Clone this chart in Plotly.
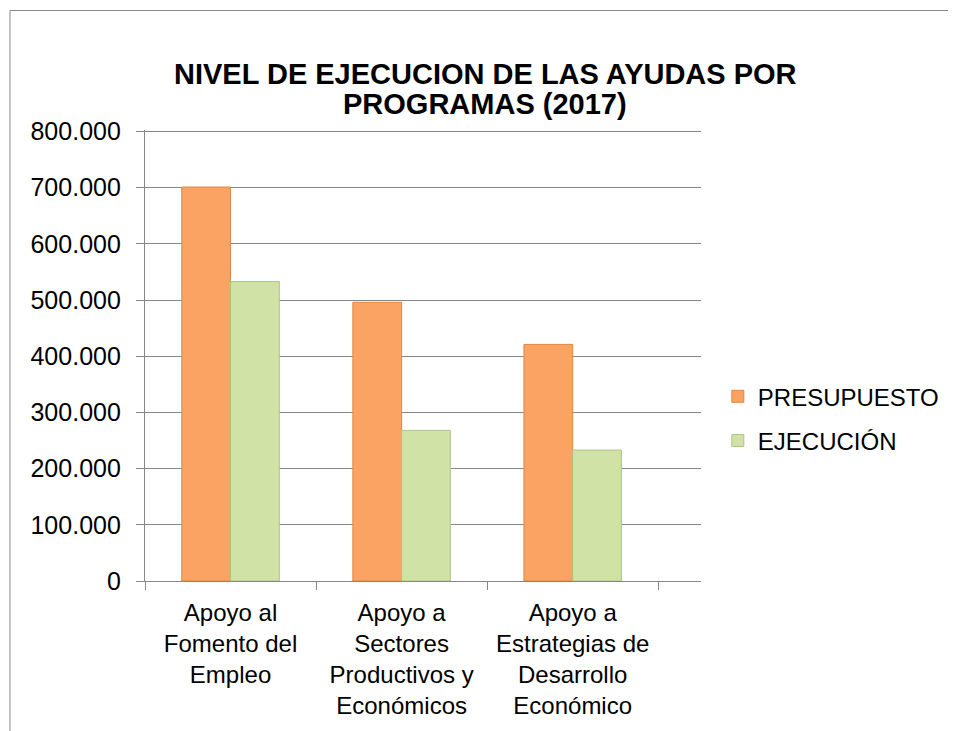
import plotly.graph_objects as go

categories = [
    "Apoyo al<br>Fomento del<br>Empleo",
    "Apoyo a<br>Sectores<br>Productivos y<br>Económicos",
    "Apoyo a<br>Estrategias de<br>Desarrollo<br>Económico",
]
presupuesto = [701000, 496000, 421000]
ejecucion = [533000, 268000, 233000]
series_names = ["PRESUPUESTO", "EJECUCIÓN"]
y_ticks = [0, 100000, 200000, 300000, 400000, 500000, 600000, 700000, 800000]
title_lines = ["NIVEL DE EJECUCION DE LAS AYUDAS POR", "PROGRAMAS (2017)"]

FONT = "Arial, Liberation Sans, sans-serif"
GRID = "#878787"

# page body adds an 8px offset; figure coordinates below are page minus 8
OFF = 8
W, H = 956 - OFF, 731 - OFF
YMAX = 802500
L = 145 - OFF
R = 707 - OFF
B = 581 - OFF
T = B - 450 * YMAX / 800000
pw, ph = R - L, B - T

def px2x(px):
    return (px - OFF - L) / pw

def py2y(py):
    return (B - (py - OFF)) / ph

fig = go.Figure()
fig.add_trace(go.Bar(
    x=categories, y=presupuesto, name=series_names[0],
    marker=dict(color="#FBA363", line=dict(color="#DE8743", width=1)),
    legendgroup="a",
))
fig.add_trace(go.Bar(
    x=categories, y=ejecucion, name=series_names[1],
    marker=dict(color="#D0E2A5", line=dict(color="#AFC486", width=1)),
    legendgroup="b",
))

fig.update_layout(
    width=W, height=H,
    margin=dict(l=L, r=W - R, t=T, b=H - B, pad=0),
    paper_bgcolor="white", plot_bgcolor="white",
    separators=",.",
    font=dict(family=FONT, size=24, color="#000000"),
    barmode="group", bargap=0.43, bargroupgap=0,
    legend=dict(
        x=px2x(724), xanchor="left", y=py2y(374), yanchor="top",
        font=dict(family=FONT, size=24, color="#000000"),
        traceorder="grouped", tracegroupgap=10,
        bgcolor="rgba(0,0,0,0)",
    ),
    showlegend=True,
    xaxis=dict(
        range=[-0.5, 2.75],
        showline=True, linecolor=GRID, linewidth=1,
        ticks="outside", tickson="boundaries", ticklen=8, tickcolor=GRID,
        showgrid=False,
        ticklabelstandoff=10,
        tickfont=dict(family=FONT, size=24, color="#000000"),
    ),
    yaxis=dict(
        range=[0, YMAX], tickvals=y_ticks, tickformat=",d",
        showline=True, linecolor=GRID, linewidth=1.3,
        ticks="outside", ticklen=8, tickcolor=GRID,
        showgrid=True, gridcolor=GRID, gridwidth=1.3,
        zeroline=False,
        ticklabelstandoff=10,
        tickfont=dict(family=FONT, size=25, color="#000000"),
    ),
    annotations=[
        dict(text="<b>%s</b>" % title_lines[0], xref="paper", yref="paper",
             x=px2x(489), y=py2y(74), xanchor="center", yanchor="middle",
             showarrow=False, font=dict(family=FONT, size=29, color="#000000")),
        dict(text="<b>%s</b>" % title_lines[1], xref="paper", yref="paper",
             x=px2x(489), y=py2y(104), xanchor="center", yanchor="middle",
             showarrow=False, font=dict(family=FONT, size=29, color="#000000")),
    ],
    shapes=[
        dict(type="line", xref="paper", yref="paper",
             x0=px2x(8.5), x1=px2x(970), y0=py2y(10), y1=py2y(10),
             line=dict(color="#8A8A8A", width=1)),
        dict(type="line", xref="paper", yref="paper",
             x0=px2x(8.5), x1=px2x(8.5), y0=py2y(10), y1=py2y(745),
             line=dict(color="#8A8A8A", width=1)),
    ],
)

fig.write_html("out.html")
